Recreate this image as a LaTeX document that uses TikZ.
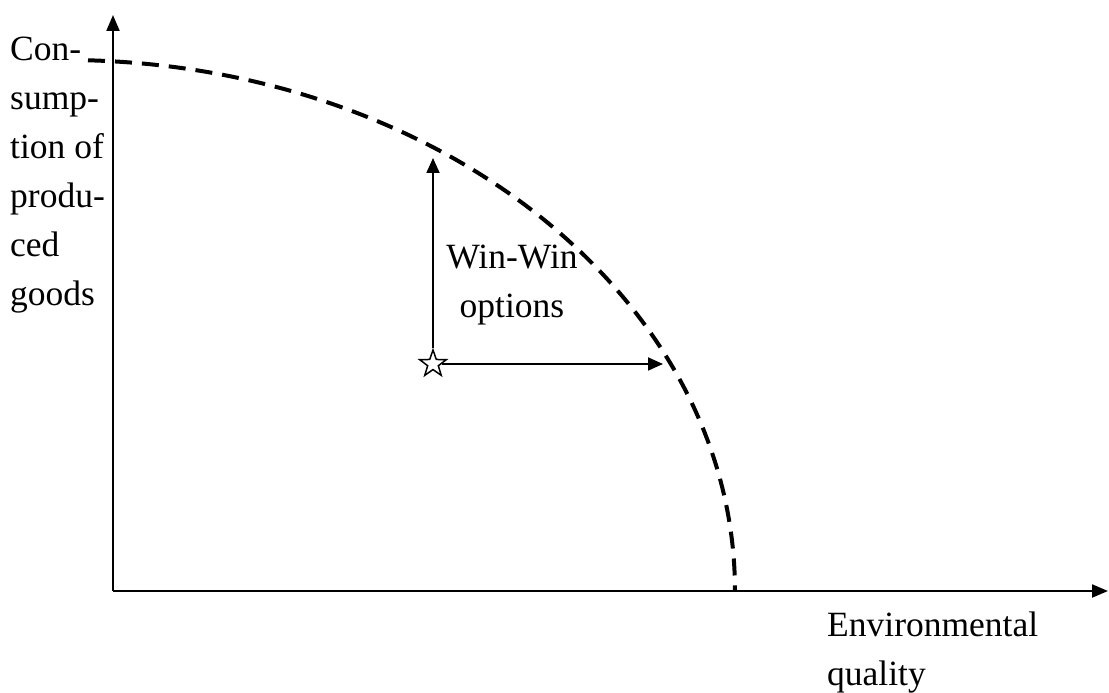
\documentclass[tikz,border=0pt]{standalone}
\usepackage{fontspec}
\setmainfont{Liberation Serif}
\usetikzlibrary{arrows.meta,shapes.geometric}
\begin{document}
\begin{tikzpicture}[x=1pt,y=1pt,
  axis/.style={line width=2pt,-{Triangle[length=16pt,width=13pt]}},
  arr/.style={line width=1.8pt,-{Triangle[length=15pt,width=13pt]}},
  frontier/.style={line width=4pt,dash pattern=on 17pt off 10pt},
  lbl/.style={inner sep=0pt,font=\fontsize{35.5}{49}\selectfont},
  starnode/.style={star,star points=5,star point ratio=2.5,minimum size=28pt,inner sep=0pt,draw,line width=1.5pt,fill=white}]
\useasboundingbox (0,0) rectangle (1109,693);
\coordinate (O) at (113,102);
\coordinate (ytip) at (113,678);
\coordinate (xtip) at (1108,102);
\coordinate (fstart) at (88,632.7);
\draw[axis] (O) -- (ytip);
\draw[axis] (O) -- (xtip);
\draw[frontier] (fstart) arc[start angle=88.03,end angle=0,x radius=670pt,y radius=531pt];
\node[starnode] (s) at (433,329) {};
\coordinate (vtip) at (433,535);
\coordinate (htip) at (663,329);
\draw[arr] (s) -- (vtip);
\draw[arr] (s) -- (htip);
\node[lbl,align=left,anchor=north west] (ylab) at (10,656) {Con-\\sump-\\tion of\\produ-\\ced\\goods};
\node[lbl,align=center,anchor=north] (ww) at (512,448) {Win-Win\\options};
\node[lbl,align=left,anchor=north west] (xlab) at (827,81) {Environmental\\quality};
\end{tikzpicture}
\end{document}
